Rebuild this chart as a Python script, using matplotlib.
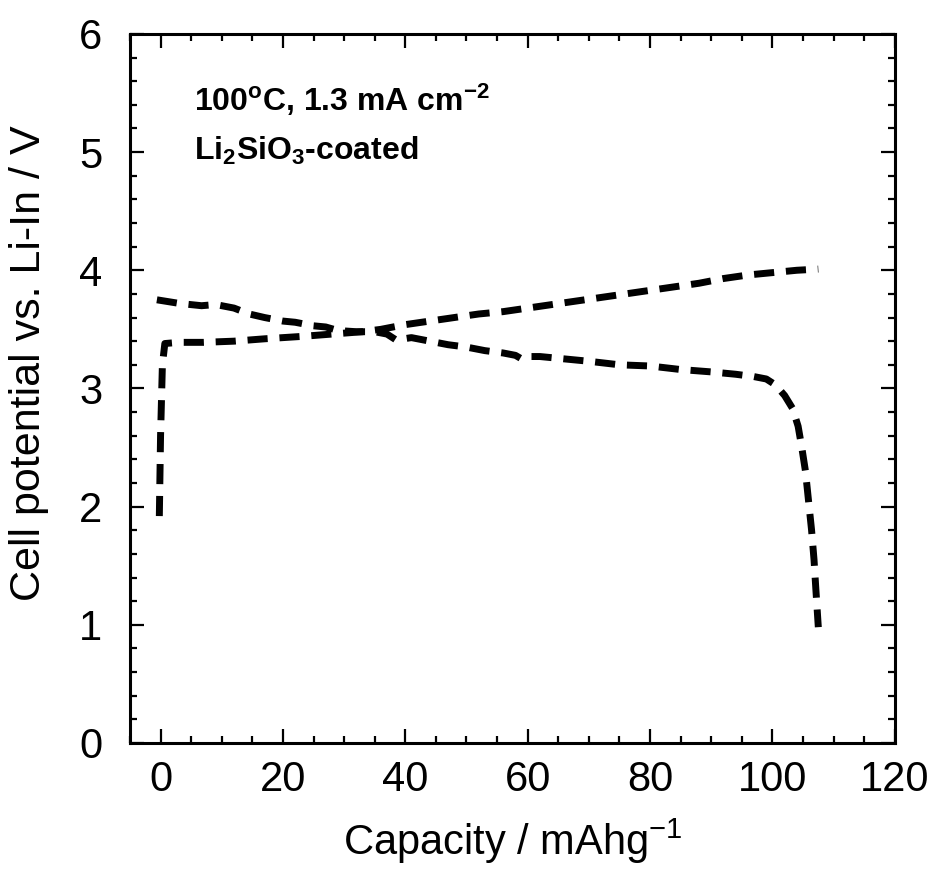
import matplotlib
matplotlib.use("Agg")
import matplotlib.pyplot as plt
from matplotlib.ticker import MultipleLocator

plt.rcParams['font.family'] = ['Liberation Sans', 'DejaVu Sans']
plt.rcParams['mathtext.fontset'] = 'custom'
plt.rcParams['mathtext.rm'] = 'Liberation Sans'
plt.rcParams['mathtext.bf'] = 'Liberation Sans:bold'
plt.rcParams['mathtext.it'] = 'Liberation Sans:italic'
plt.rcParams['mathtext.default'] = 'regular'
plt.rcParams['lines.scale_dashes'] = False

# charge curve (rising)
charge_cap = [-0.2, 0.0, 0.3, 0.7, 3, 7, 12, 17, 23, 28, 33, 36, 40, 44, 48,
              52, 56, 60, 64, 68, 72, 76, 80, 84, 88, 92, 96, 100, 104, 107.5]
charge_v = [1.92, 2.6, 3.2, 3.38, 3.39, 3.39, 3.40, 3.42, 3.44, 3.46, 3.48, 3.50,
            3.54, 3.57, 3.60, 3.63, 3.65, 3.68, 3.71, 3.74, 3.77, 3.80, 3.83,
            3.86, 3.89, 3.93, 3.96, 3.98, 4.00, 4.01]

# discharge curve (falling)
dis_cap = [-0.6, 3, 6.7, 9, 12, 14.5, 17, 20, 22, 25, 27, 29, 32, 35, 37,
           38.5, 41, 44, 47, 50, 53, 56, 58, 59, 60, 62, 66, 70, 75, 80, 85,
           90, 94, 97, 99, 100.5, 102, 103.3, 104.2, 104.8, 105.4, 105.9,
           106.4, 106.8, 107.1, 107.5]
dis_v = [3.75, 3.72, 3.70, 3.71, 3.68, 3.63, 3.60, 3.57, 3.56, 3.53, 3.52,
         3.49, 3.48, 3.48, 3.46, 3.41, 3.43, 3.40, 3.37, 3.35, 3.32, 3.30,
         3.28, 3.25, 3.27, 3.27, 3.25, 3.23, 3.20, 3.19, 3.16, 3.14, 3.12,
         3.10, 3.08, 3.03, 2.94, 2.83, 2.68, 2.50, 2.30, 2.05, 1.80, 1.55,
         1.30, 0.98]

fig = plt.figure(figsize=(9.35, 8.69), dpi=100)
ax = fig.add_axes([0.139, 0.145, 0.818, 0.816])

dash = (0, (14.5, 8.5))
ax.plot(charge_cap, charge_v, color='black', lw=5, ls=dash)
ax.plot(dis_cap, dis_v, color='black', lw=5, ls=dash)

ax.set_xlim(-5, 120)
ax.set_ylim(0, 6)
ax.xaxis.set_major_locator(MultipleLocator(20))
ax.xaxis.set_minor_locator(MultipleLocator(5))
ax.yaxis.set_major_locator(MultipleLocator(1))
ax.yaxis.set_minor_locator(MultipleLocator(0.2))

ax.tick_params(which='both', direction='in', top=True, right=True, width=1.6)
ax.tick_params(which='major', length=10)
ax.tick_params(which='minor', length=5)
ax.tick_params(axis='x', which='major', labelsize=30, pad=12)
ax.tick_params(axis='y', which='major', labelsize=30, pad=20)
for s in ax.spines.values():
    s.set_linewidth(2.2)

ax.set_xlabel('Capacity / mAhg$^{-1}$', fontsize=30, labelpad=12)
ax.set_ylabel('Cell potential vs. Li-In / V', fontsize=31)
ax.yaxis.set_label_coords(-0.106, 0.536)

ax.text(5.4, 5.35, r'100$^{\mathbf{o}}$C, 1.3 mA cm$^{\mathbf{-2}}$',
        fontsize=23, fontweight='bold', va='baseline', ha='left')
ax.text(5.4, 4.93, r'Li$_{\mathbf{2}}$SiO$_{\mathbf{3}}$-coated',
        fontsize=23, fontweight='bold', va='baseline', ha='left')

fig.savefig('out.png', dpi=100)
